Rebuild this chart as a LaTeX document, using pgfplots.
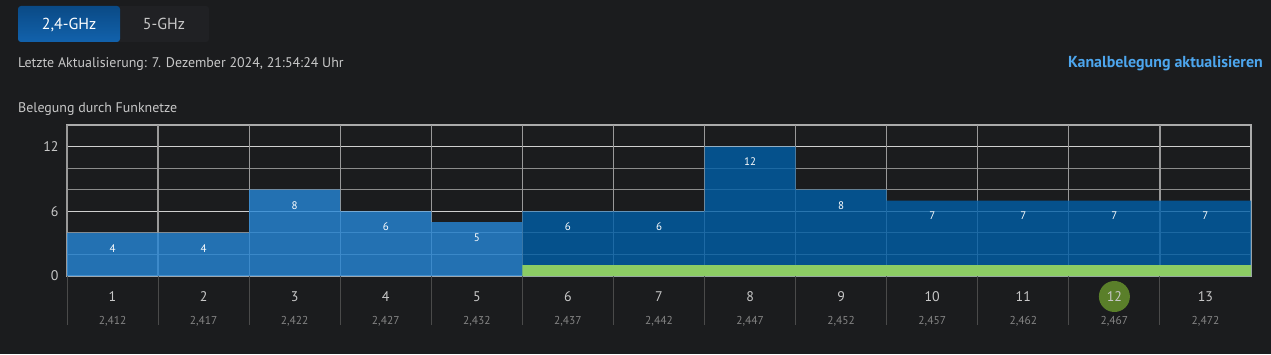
\documentclass[border=0pt]{standalone}
\usepackage{fontspec}
\setmainfont{PT Sans}
\usepackage{pgfplots}
\pgfplotsset{compat=1.18}
\definecolor{bg}{HTML}{1B1C1E}
\definecolor{tabdark}{HTML}{202124}
\definecolor{tabtop}{HTML}{0A4A86}
\definecolor{tabbot}{HTML}{1262AC}
\definecolor{txt}{HTML}{C8C8C8}
\definecolor{linkblue}{HTML}{4DA6EE}
\definecolor{lightbar}{RGB}{38,135,215}
\definecolor{darkbar}{RGB}{0,95,168}
\definecolor{owngreen}{HTML}{8CCC64}
\definecolor{chgreen}{HTML}{5A7F2A}
\definecolor{freq}{HTML}{858585}
\definecolor{axisgray}{HTML}{ABABAB}
\definecolor{majgrid}{HTML}{CFCFCF}
\definecolor{mingrid}{HTML}{8C8C8C}
\definecolor{vgrid}{HTML}{999999}
\definecolor{sep}{HTML}{4A4A4A}
\newcommand\fq[1]{{\color{freq}\fontsize{11.5}{12}\selectfont #1}}
\begin{document}
\begin{tikzpicture}[x=1bp,y=1bp]
\fill[bg] (0,0) rectangle (1271,354);
\useasboundingbox (0,0) rectangle (1271,354);
% tabs
\fill[tabdark, rounded corners=3bp] (18,312) rectangle (209,348);
\shade[top color=tabtop, bottom color=tabbot, rounded corners=3bp] (18,312) rectangle (120,348);
\node[text=white, font=\fontsize{16}{18}\selectfont, anchor=base] at (69,324.5) {2,4-GHz};
\node[text=txt, font=\fontsize{16}{18}\selectfont, anchor=base] at (164,324.5) {5-GHz};
\node[text=txt, font=\fontsize{14}{16}\selectfont, anchor=base west, inner sep=0pt] at (18,287) {Letzte Aktualisierung: 7. Dezember 2024, 21:54:24 Uhr};
\node[text=linkblue, font=\bfseries\fontsize{16}{18}\selectfont, anchor=base east, inner sep=0pt] at (1263,287) {Kanalbelegung aktualisieren};
\node[text=txt, font=\fontsize{14}{16}\selectfont, anchor=base west, inner sep=0pt] at (18,242) {Belegung durch Funknetze};
\begin{axis}[
  at={(67bp,78bp)}, anchor=south west,
  width=1184bp, height=151bp, scale only axis,
  xmin=0.5, xmax=13.5, ymin=0, ymax=14,
  /pgf/number format/assume math mode=true,
  axis line style={draw=axisgray, line width=1.6bp},
  xtick pos=bottom, ytick pos=left,
  xtick={1,...,13},
  xticklabels={
    {1\\\fq{2,412}},{2\\\fq{2,417}},{3\\\fq{2,422}},{4\\\fq{2,427}},
    {5\\\fq{2,432}},{6\\\fq{2,437}},{7\\\fq{2,442}},{8\\\fq{2,447}},
    {9\\\fq{2,452}},{10\\\fq{2,457}},{11\\\fq{2,462}},
    {\vphantom{1}\smash{\tikz[baseline=(c.base)]\node[circle,fill=chgreen,inner sep=0pt,minimum size=31bp,text=txt](c){12};}\\\fq{2,467}},
    {13\\\fq{2,472}}},
  xticklabel style={align=center, text=txt, font=\fontsize{14}{23}\selectfont, yshift=-12bp},
  ytick={0,6,12},
  minor ytick={2,4,8,10},
  yticklabel style={text=txt, font=\fontsize{14}{16}\selectfont, xshift=-5bp},
  major tick length=0pt, minor tick length=0pt,
  ymajorgrids, yminorgrids,
  major y grid style={draw=majgrid, line width=1.2bp},
  minor y grid style={draw=mingrid, line width=1.2bp},
  extra x ticks={0.5,1.5,...,12.5},
  extra x tick labels={},
  extra x tick style={xmajorgrids=true, major tick length=49bp, tick align=outside, xtick pos=bottom,
     major tick style={draw=sep, line width=1bp},
     major x grid style={draw=vgrid, line width=1.2bp}},
  every node near coord/.append style={anchor=center, yshift=-15.5bp, text=white, text opacity=1, fill opacity=1, font=\fontsize{11}{12}\selectfont},
  axis background/.style={fill=bg},
]
\addplot[ybar, bar width=1, bar shift=0pt, fill=lightbar, fill opacity=0.8, draw=none, nodes near coords]
  coordinates {(1,4)(2,4)(3,8)(4,6)(5,5)};
\addplot[ybar, bar width=1, bar shift=0pt, fill=darkbar, fill opacity=0.8, draw=none, nodes near coords]
  coordinates {(6,6)(7,6)(8,12)(9,8)(10,7)(11,7)(12,7)(13,7)};
\addplot[ybar, bar width=1, bar shift=0pt, fill=owngreen, draw=none]
  coordinates {(6,1)(7,1)(8,1)(9,1)(10,1)(11,1)(12,1)(13,1)};
\end{axis}
\end{tikzpicture}
\end{document}
